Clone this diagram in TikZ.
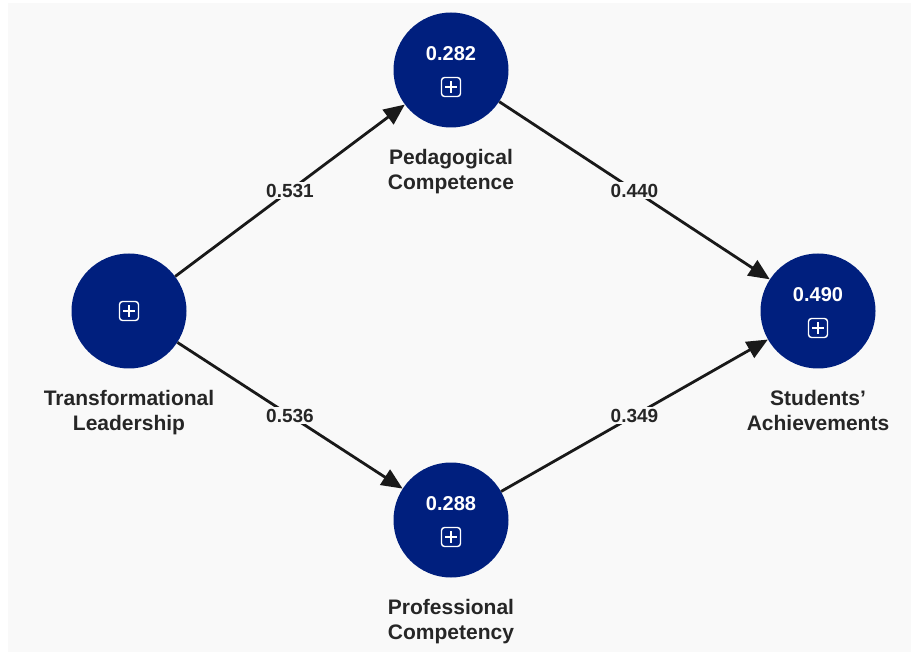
\documentclass[tikz,border=0pt]{standalone}
\usepackage{fontspec}
\setmainfont{Liberation Sans}
\usetikzlibrary{positioning}
\usetikzlibrary{arrows.meta}

\definecolor{latentblue}{RGB}{0,31,126}
\definecolor{canvasgray}{RGB}{249,249,249}

\begin{document}
\begin{tikzpicture}[x=1pt, y=-1pt,
  construct/.style={circle, fill=latentblue, minimum size=115pt, inner sep=0pt},
  r2 value/.style={text=white, inner sep=0pt, font=\fontsize{20}{22}\selectfont\bfseries},
  expand icon/.style={draw=white, line width=1.4pt, rounded corners=3pt, minimum size=19pt, inner sep=0pt},
  caption/.style={align=center, text=black!85, font=\fontsize{21}{25}\selectfont\bfseries},
  path coeff/.style={fill=canvasgray, inner sep=2pt, text=black!85, font=\fontsize{19}{21}\selectfont\bfseries},
  path arrow/.style={line width=2.8pt, black!90, -{Triangle[length=21pt,width=18pt]}},
]

  \fill[canvasgray] (8,3) rectangle (911,652);
  \useasboundingbox (0,0) rectangle (911,652);

  % latent variables
  \node[construct] (tl) at (129,311) {};
  \node[construct] (pc) at (451,70) {};
  \node[construct] (prc) at (451,520) {};
  \node[construct] (sa) at (818,311) {};

  % R squared values
  \foreach \n/\v in {pc/0.282, prc/0.288, sa/0.490} {
    \node[r2 value] (\n-r2) at ([yshift=16pt]\n.center) {\v};
    \node[expand icon] (\n-icon) at ([yshift=-17pt]\n.center) {};
  }
  \node[expand icon] (tl-icon) at (tl.center) {};
  \foreach \n in {tl,pc,prc,sa} {
    \draw[white, line width=1.4pt] ([yshift=-4.5pt]\n-icon.north) -- ([yshift=4.5pt]\n-icon.south);
    \draw[white, line width=1.4pt] ([xshift=4.5pt]\n-icon.west) -- ([xshift=-4.5pt]\n-icon.east);
  }

  % names
  \node[caption, below=18pt of tl] (tl-label) {Transformational\\Leadership};
  \node[caption, below=18pt of pc] (pc-label) {Pedagogical\\Competence};
  \node[caption, below=18pt of prc] (prc-label) {Professional\\Competency};
  \node[caption, below=18pt of sa] (sa-label) {Students'\\Achievements};

  % paths
  \draw[path arrow] (tl) -- (pc) node[midway, path coeff] (tl-pc) {0.531};
  \draw[path arrow] (tl) -- (prc) node[midway, path coeff] (tl-prc) {0.536};
  \draw[path arrow] (pc) -- (sa) node[midway, path coeff] (pc-sa) {0.440};
  \draw[path arrow] (prc) -- (sa) node[midway, path coeff] (prc-sa) {0.349};

\end{tikzpicture}
\end{document}
